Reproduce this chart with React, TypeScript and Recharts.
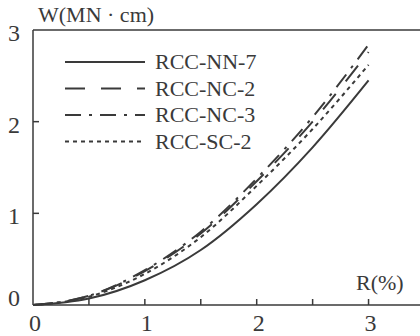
import { LineChart, Line, XAxis, YAxis, ReferenceLine } from "recharts";

const rValues = [0, 0.5, 1, 1.5, 2, 2.5, 3];
const nn7 = [0, 0.07, 0.27, 0.6, 1.1, 1.72, 2.45];
const nc2 = [0, 0.1, 0.37, 0.78, 1.35, 2.0, 2.76];
const nc3 = [0, 0.1, 0.38, 0.8, 1.38, 2.05, 2.84];
const sc2 = [0, 0.09, 0.34, 0.74, 1.3, 1.92, 2.62];
const xTicks = [0, 0.5, 1, 1.5, 2, 2.5, 3];
const yTicks = [0, 1, 2, 3];

const data = rValues.map((r, i) => ({
  r,
  nn7: nn7[i],
  nc2: nc2[i],
  nc3: nc3[i],
  sc2: sc2[i],
}));

const ink = "#3a3a3a";
const font = "'Liberation Serif', 'DejaVu Serif', serif";

const series = [
  { key: "nn7", name: "RCC-NN-7", dash: "" },
  { key: "nc2", name: "RCC-NC-2", dash: "20 16" },
  { key: "nc3", name: "RCC-NC-3", dash: "16 8 3 8" },
  { key: "sc2", name: "RCC-SC-2", dash: "4 4" },
];

function XTick(props: any) {
  const { x, y, payload } = props;
  const v = payload.value;
  return (
    <g>
      {v !== 0 && <line x1={x} y1={y} x2={x} y2={y - 6} stroke={ink} strokeWidth={1.5} />}
      {Number.isInteger(v) && (
        <text x={x + 2} y={y + 26} textAnchor="middle" fontSize={24} fontFamily={font} fill={ink}>
          {v}
        </text>
      )}
    </g>
  );
}

function YTick(props: any) {
  const { x, y, payload } = props;
  const v = payload.value;
  return (
    <g>
      {v !== 0 && v !== 3 && <line x1={x} y1={y} x2={x + 6} y2={y} stroke={ink} strokeWidth={1.5} />}
      <text x={x - 19} y={v === 0 ? y + 1 : y + 11} textAnchor="middle" fontSize={24} fontFamily={font} fill={ink}>
        {v}
      </text>
    </g>
  );
}

export default function App() {
  return (
    <div style={{ position: "absolute", left: 0, top: 0, background: "#fff" }}>
      <LineChart width={420} height={336} data={data} margin={{ top: 30, right: 0, bottom: 0, left: 0 }}>
        <XAxis
          dataKey="r"
          type="number"
          domain={[0, 3.46]}
          ticks={xTicks}
          allowDataOverflow
          height={31}
          tickSize={0}
          tickMargin={0}
          tickLine={false}
          axisLine={{ stroke: ink, strokeWidth: 1.5 }}
          tick={<XTick />}
        />
        <YAxis
          type="number"
          domain={[0, 3]}
          ticks={yTicks}
          width={33}
          tickSize={0}
          tickMargin={0}
          tickLine={false}
          axisLine={{ stroke: ink, strokeWidth: 1.5 }}
          tick={<YTick />}
        />
        <ReferenceLine y={3} stroke={ink} strokeWidth={1.5} />
        {series.map((s) => (
          <Line
            key={s.key}
            dataKey={s.key}
            name={s.name}
            type="monotone"
            stroke={ink}
            strokeWidth={2}
            strokeDasharray={s.dash || undefined}
            dot={false}
            isAnimationActive={false}
          />
        ))}
        <g>
          {series.map((s, i) => (
            <g key={s.key}>
              <line x1={65} x2={145} y1={62 + i * 26.5} y2={62 + i * 26.5} stroke={ink} strokeWidth={2} strokeDasharray={s.dash || undefined} />
              <text x={155} y={62 + i * 26.5 + 7} fontSize={22} fontFamily={font} fill={ink}>
                {s.name}
              </text>
            </g>
          ))}
        </g>
        <text x={38} y={22} fontSize={22} fontFamily={font} fill={ink}>
          W(MN · cm)
        </text>
        <text x={356} y={290} fontSize={22} fontFamily={font} fill={ink}>
          R(%)
        </text>
      </LineChart>
    </div>
  );
}
